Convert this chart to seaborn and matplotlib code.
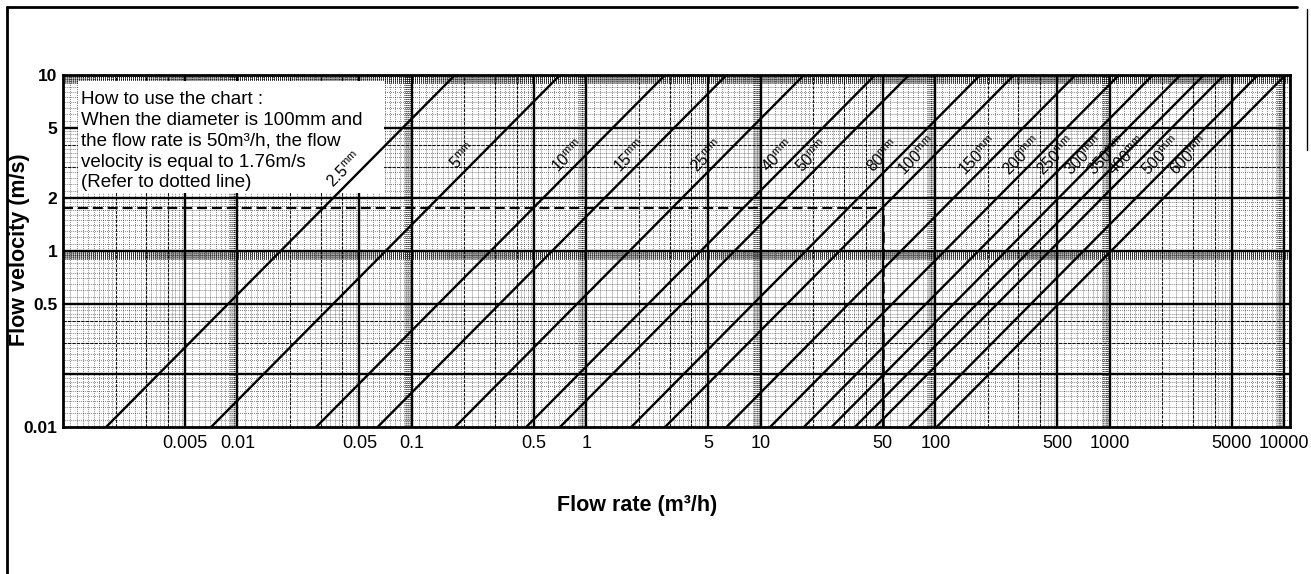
import numpy as np
import pandas as pd
import matplotlib
matplotlib.use("Agg")
import matplotlib.pyplot as plt
from matplotlib.patches import Rectangle
from matplotlib.lines import Line2D
import seaborn as sns

# ---------------- data ----------------
diameters_mm = [2.5, 5, 10, 15, 25, 40, 50, 80, 100, 150, 200, 250, 300,
                350, 400, 500, 600]
velocity_range = [0.1, 10]          # y-axis extent (m/s)
flow_range = [0.001, 10800]         # x-axis extent (m3/h)
x_ticks = [0.005, 0.01, 0.05, 0.1, 0.5, 1, 5, 10, 50, 100, 500, 1000, 5000, 10000]
x_tick_labels = ["0.005", "0.01", "0.05", "0.1", "0.5", "1", "5", "10", "50",
                 "100", "500", "1000", "5000", "10000"]
y_ticks = [10, 5, 2, 1, 0.5, 0.1]
y_tick_labels = ["10", "5", "2", "1", "0.5", "0.01"]
example_diameter_mm = 100
example_flow = 50
example_velocity = 1.76
note_lines = ["How to use the chart :",
              "When the diameter is 100mm and",
              "the flow rate is 50m³/h, the flow",
              "velocity is equal to 1.76m/s",
              "(Refer to dotted line)"]

# -------- derived table: Q = v * (pi d^2 / 4) * 3600 -------------
rows = []
for d in diameters_mm:
    area = np.pi * (d / 1000.0) ** 2 / 4.0
    for v in velocity_range:
        rows.append({"diameter": d, "velocity": v, "flow": v * area * 3600.0})
df = pd.DataFrame(rows)

# ---------------- styling ----------------
sns.set_theme(style="white")
plt.rcParams["font.family"] = ["Liberation Sans", "DejaVu Sans"]
plt.rcParams["mathtext.fontset"] = "custom"
plt.rcParams["mathtext.rm"] = "Liberation Sans"
for k in ("text.color", "axes.labelcolor", "xtick.color", "ytick.color"):
    plt.rcParams[k] = "black"

W, H = 1311, 574
fig = plt.figure(figsize=(W / 100, H / 100), dpi=100)
ax = fig.add_axes([63 / W, 1 - 427 / H, (1290 - 63) / W, (427 - 75) / H])
ax.set_xscale("log")
ax.set_yscale("log")
ax.set_xlim(*flow_range)
ax.set_ylim(*velocity_range)

# ---------------- log graph-paper grid ----------------
def paper_values(lo_exp, hi_exp, crowd_step):
    heavy, medium, fine = [], [], []
    for e in range(lo_exp, hi_exp):
        b = 10.0 ** e
        heavy += [1 * b, 5 * b]
        medium += [2 * b, 3 * b, 4 * b]
        fine += list(np.arange(1.1, 2.0, 0.1) * b)
        fine += list(np.arange(2.2, 5.0, 0.2) * b)
        fine += list(np.arange(5.5, 10.0, 0.5) * b)
        # crowded region at the end of each decade (dark band on the paper)
        fine += list(np.arange(9.0 + crowd_step, 10.0, crowd_step) * b)
    return heavy, medium, fine

xh, xm, xf = paper_values(-3, 5, 0.1)
yh, ym, yf = paper_values(-1, 1, 0.05)
yh = yh + [2 * 10.0 ** e for e in (-1, 0)]
ym = [v for v in ym if not np.isclose(v, 0.2) and not np.isclose(v, 2)]

fine_kw = dict(color="black", lw=0.55, linestyle=(0, (1, 1.6)), alpha=0.75, zorder=1)
med_kw = dict(color="black", lw=0.8, linestyle=(0, (3, 1)), alpha=0.9, zorder=1)
heavy_kw = dict(color="black", lw=1.7, zorder=1.5)

ylo, yhi = velocity_range
xlo, xhi = flow_range
ax.vlines([v for v in xf if xlo < v < xhi], ylo, yhi, **fine_kw)
ax.hlines([v for v in yf if ylo < v < yhi], xlo, xhi, **fine_kw)
ax.vlines([v for v in xm if xlo < v < xhi], ylo, yhi, **med_kw)
ax.hlines([v for v in ym if ylo < v < yhi], xlo, xhi, **med_kw)
ax.vlines([v for v in xh if xlo < v < xhi], ylo, yhi, **heavy_kw)
ax.hlines([v for v in yh if ylo < v < yhi], xlo, xhi, **heavy_kw)

# white note box
ax.add_patch(Rectangle((0.012, 0.664), 0.25, 0.32, transform=ax.transAxes,
                       facecolor="white", edgecolor="none", zorder=2))
ax.text(0.015, 0.955, "\n".join(note_lines), transform=ax.transAxes,
        ha="left", va="top", fontsize=13.5, linespacing=1.3, zorder=5)

# ---------------- diameter lines ----------------
sns.lineplot(data=df, x="flow", y="velocity", units="diameter", estimator=None,
             color="black", linewidth=1.7, ax=ax, zorder=4, legend=False)
ax.set_xscale("log")
ax.set_yscale("log")
ax.set_xlim(*flow_range)
ax.set_ylim(*velocity_range)

# example dashed lines
ax.hlines(example_velocity, xlo, example_flow, colors="black", lw=1.6,
          linestyles=(0, (4.5, 2.2)), zorder=4)
ax.vlines(example_flow, ylo, example_velocity, colors="black", lw=1.8,
          linestyles=(0, (4.5, 2.2)), zorder=4)

# line labels
fig.canvas.draw()
p1 = ax.transData.transform((1, 1))
p2 = ax.transData.transform((10, 10))
angle = np.degrees(np.arctan2(p2[1] - p1[1], p2[0] - p1[0]))
for d in diameters_mm:
    area = np.pi * (d / 1000.0) ** 2 / 4.0
    v_lab = 2.6 if d < 5 else 3.1
    q_lab = v_lab * area * 3600.0
    ax.annotate(f"{d:g}" + r"$^{\mathregular{mm}}$", xy=(q_lab, v_lab),
                xytext=(-1.5, 1.5), textcoords="offset points",
                rotation=angle, rotation_mode="anchor", ha="center", va="bottom",
                fontsize=11.5, zorder=6)

# ---------------- axes & ticks ----------------
ax.set_xticks(x_ticks)
ax.set_xticklabels(x_tick_labels)
ax.set_yticks(y_ticks)
ax.set_yticklabels(y_tick_labels)
ax.minorticks_off()
ax.tick_params(axis="x", direction="in", length=4, width=2, pad=6,
               labelsize=13, colors="black")
ax.tick_params(axis="y", direction="in", length=0, pad=4, labelsize=12.5,
               colors="black")
for lab in ax.get_yticklabels():
    lab.set_fontweight("bold")
for s in ax.spines.values():
    s.set_color("black")
    s.set_linewidth(2)
ax.set_xlabel("")
ax.set_ylabel("")

fig.text(19.5 / W, 1 - 250 / H, "Flow velocity (m/s)", rotation=90,
         ha="center", va="center", fontsize=15.5, fontweight="bold")
fig.text(637 / W, 1 - 505 / H, "Flow rate (m³/h)", ha="center", va="center",
         fontsize=15.5, fontweight="bold")

# page frame (scanned sheet border)
fig.add_artist(Line2D([7 / W, 7 / W], [0, 1 - 7 / H], transform=fig.transFigure,
                      color="black", lw=2))
fig.add_artist(Line2D([7 / W, 1297 / W], [1 - 7 / H, 1 - 7 / H],
                      transform=fig.transFigure, color="black", lw=2))
fig.add_artist(Line2D([1307 / W, 1307 / W], [1 - 150 / H, 1 - 9 / H],
                      transform=fig.transFigure, color="black", lw=1))

fig.savefig("out.png", dpi=100, facecolor="white")
